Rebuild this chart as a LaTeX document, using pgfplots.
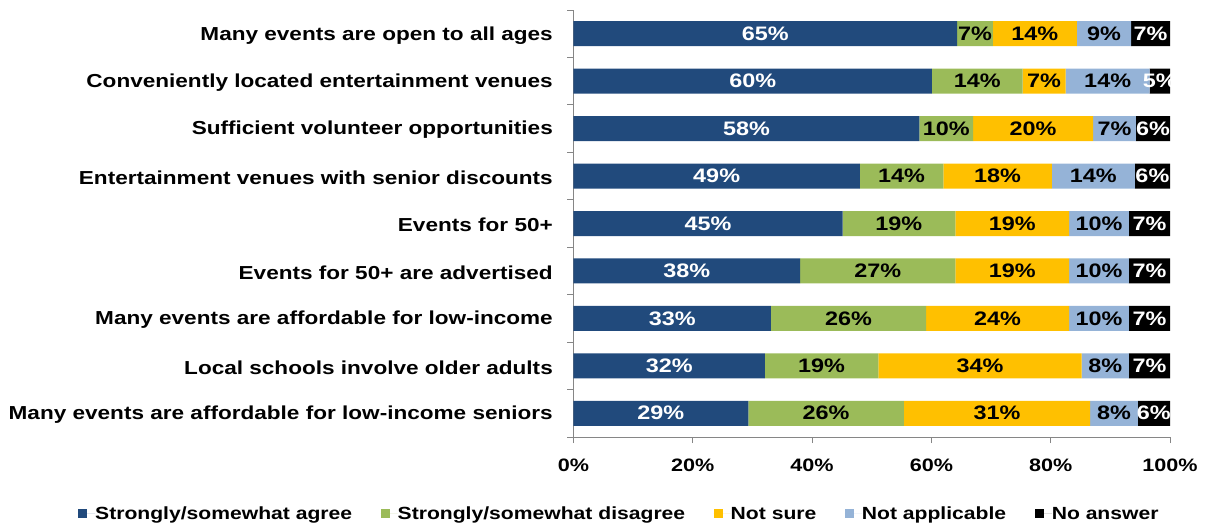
\documentclass[border=0pt]{standalone}
\usepackage{fontspec}
\setmainfont{Liberation Sans}[FakeStretch=1.2]
\usepackage{pgfplots}
\usepackage{pgfplotstable}
\pgfplotsset{compat=1.18}
\definecolor{cAgree}{HTML}{214A7C}
\definecolor{cDis}{HTML}{9BBB59}
\definecolor{cNS}{HTML}{FFC000}
\definecolor{cNA}{HTML}{95B3D7}
\definecolor{cNo}{HTML}{000000}
\definecolor{axgray}{HTML}{868686}
\newcommand{\cat}{\fontsize{18.8bp}{22bp}\selectfont\bfseries}
\newcommand{\lbl}{\fontsize{19.5bp}{22bp}\selectfont\bfseries}
\newcommand{\tck}{\fontsize{18bp}{22bp}\selectfont\bfseries}
\newcommand{\leg}{\fontsize{17.6bp}{21bp}\selectfont\bfseries}

\pgfplotstableread{
y agree disagree notsure na noans lA lD lN lNA lNo
8 64.3 6.0 14.1 9.1 6.5 65 7 14 9 7
7 60.1 15.2 7.2 14.1 3.4 60 14 7 14 5
6 58.0 9.0 20.1 7.2 5.7 58 10 20 7 6
5 48.0 14.0 18.2 13.9 5.9 49 14 18 14 6
4 45.1 18.9 19.1 10.0 6.9 45 19 19 10 7
3 38.0 26.0 19.1 10.0 6.9 38 27 19 10 7
2 33.1 26.0 24.0 10.0 6.9 33 26 24 10 7
1 32.1 19.0 34.1 7.9 6.9 32 19 34 8 7
0 29.3 26.1 31.2 8.0 5.4 29 26 31 8 6
}\data

\pgfplotsset{
  seglabel/.style={
    nodes near coords={\pgfplotspointmeta\%},
    point meta=explicit symbolic,
    every node near coord/.style={anchor=center, inner sep=0pt, font=\lbl, text=#1},
  },
}

\begin{document}
\begin{tikzpicture}
\begin{axis}[
  name=ax,
  scale only axis,
  width=596.5bp, height=427bp,
  xbar stacked,
  bar width=25bp,
  xmin=0, xmax=100, ymin=-0.5, ymax=8.5,
  axis x line*=bottom, axis y line*=left,
  axis line style={axgray, line width=0.8bp},
  xtick={0,20,...,100},
  xticklabels={0\%,20\%,40\%,60\%,80\%,100\%},
  ytick={0,...,8},
  yticklabels={Many events are affordable for low-income seniors,
    Local schools involve older adults,
    Many events are affordable for low-income,
    Events for 50+ are advertised,
    Events for 50+,
    Entertainment venues with senior discounts,
    Sufficient volunteer opportunities,
    Conveniently located entertainment venues,
    Many events are open to all ages},
  minor ytick={-0.5,0.5,...,8.5},
  tick align=outside,
  major tick length=6bp, minor tick length=6bp,
  major y tick style={draw=none},
  minor y tick style={axgray, line width=0.8bp},
  major x tick style={axgray, line width=0.8bp},
  yticklabel style={font=\cat, inner sep=0pt, xshift=-14.5bp, yshift=-1.5bp},
  xticklabel style={font=\tck, inner sep=0pt, yshift=-16bp},
  legend columns=5,
  legend style={draw=none, fill=none, at={(-0.8307,-0.180)}, anchor=west,
    column sep=0pt, inner sep=0pt, nodes={inner sep=0pt, font=\leg},
    /tikz/every even column/.append style={column sep=28.5bp}},
  legend image code/.code={\fill[#1,draw=none] (0bp,-4.5bp) rectangle (9bp,4.5bp); \path (0bp,0bp) -- (17bp,0bp);},
]
\addplot[fill=cAgree, draw=none, seglabel=white] table[x=agree, y=y, meta=lA] {\data};
\addplot[fill=cDis, draw=none, seglabel=black] table[x=disagree, y=y, meta=lD] {\data};
\addplot[fill=cNS, draw=none, seglabel=black] table[x=notsure, y=y, meta=lN] {\data};
\addplot[fill=cNA, draw=none, seglabel=black] table[x=na, y=y, meta=lNA] {\data};
\addplot[fill=cNo, draw=none, seglabel=white] table[x=noans, y=y, meta=lNo] {\data};
\legend{Strongly/somewhat agree, Strongly/somewhat disagree, Not sure, Not applicable, No answer}
\end{axis}
\pgfresetboundingbox
\path[use as bounding box] ([shift={(-573.5bp,-90bp)}]ax.south west) rectangle ([shift={(632.5bp,437bp)}]ax.south west);
\end{tikzpicture}
\end{document}
